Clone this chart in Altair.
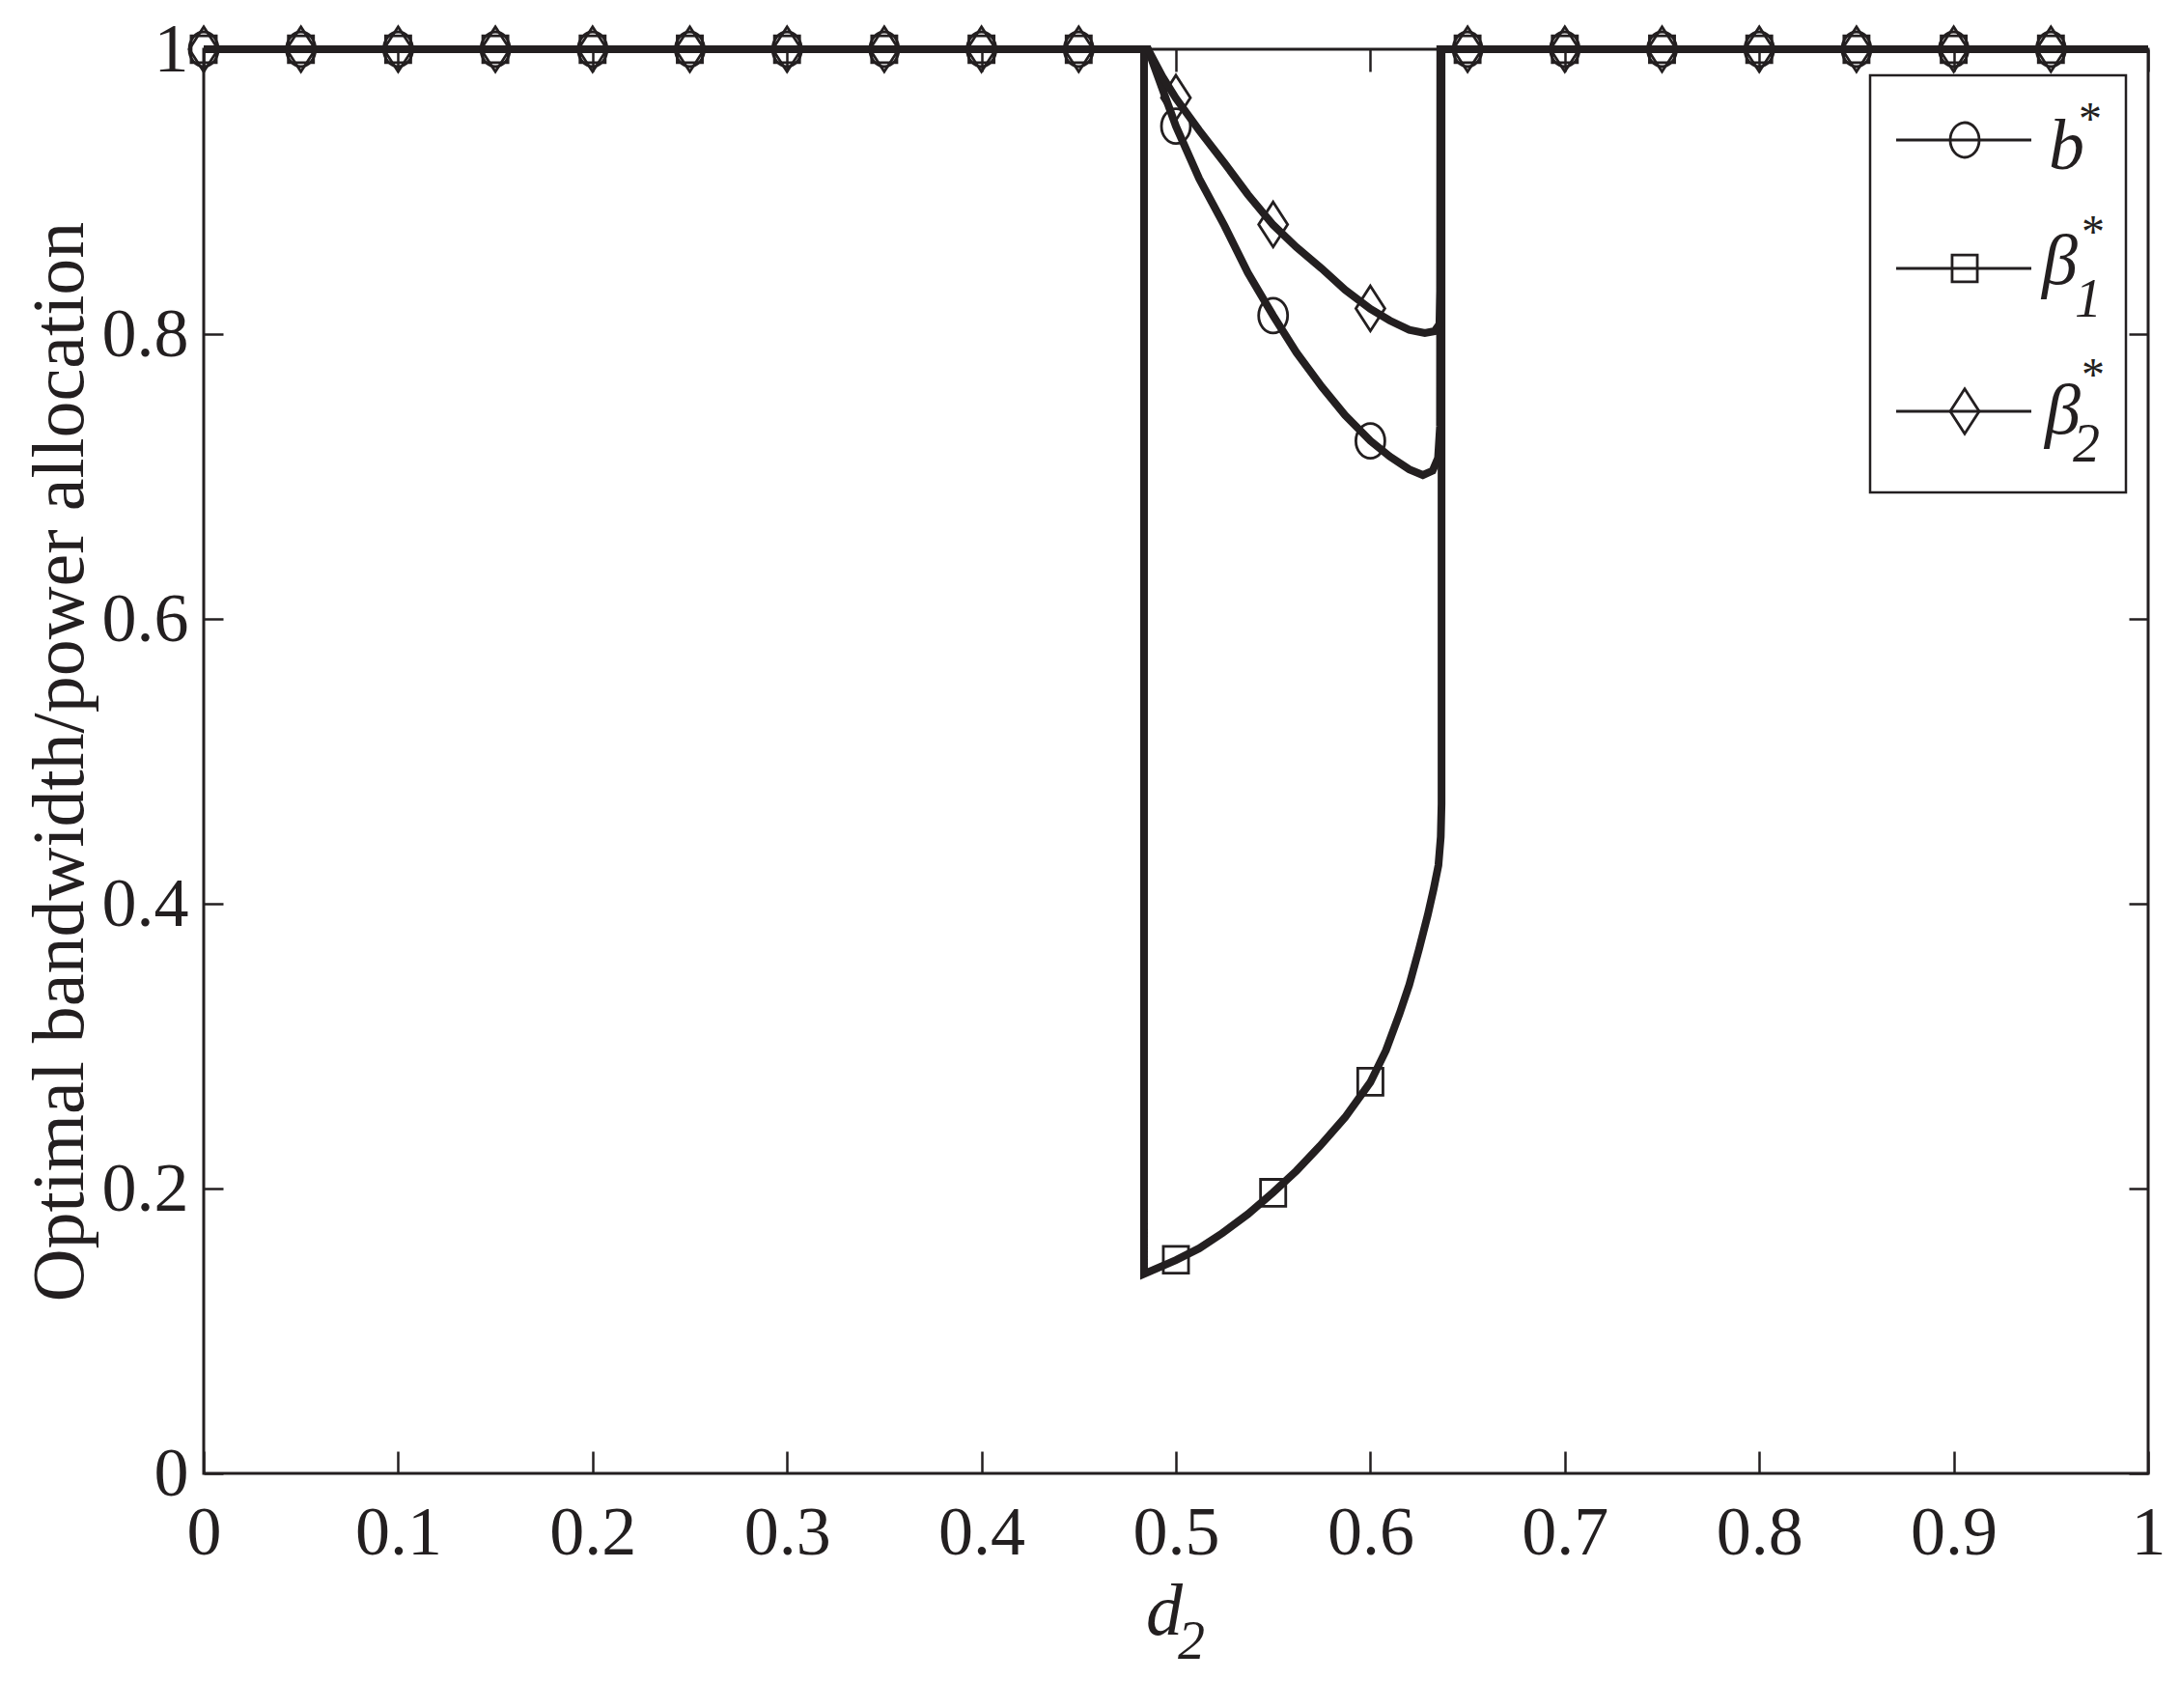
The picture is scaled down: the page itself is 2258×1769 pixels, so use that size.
import altair as alt
import pandas as pd

INK = "#231f20"
FONT = "Liberation Serif"

SERIES = ["b", "beta1", "beta2"]

# ---- curve data (x = d2, y = allocation) ----
B_X = [0, 0.4856, 0.5, 0.512, 0.525, 0.537, 0.55, 0.562, 0.575, 0.587, 0.6, 0.61, 0.62,
       0.627, 0.632, 0.6348, 0.6358, 0.636, 1]
B_Y = [1, 1, 0.946, 0.909, 0.876, 0.843, 0.813, 0.787, 0.763, 0.743, 0.725, 0.714, 0.705,
       0.701, 0.704, 0.713, 0.735, 1, 1]

BETA1_X = [0, 0.4836, 0.4836, 0.5, 0.512, 0.524, 0.537, 0.55, 0.562, 0.574, 0.587, 0.6,
           0.608, 0.615, 0.62, 0.625, 0.6295, 0.6325, 0.635, 0.6362, 0.6366, 0.6366, 1]
BETA1_Y = [1, 1, 0.14, 0.1498, 0.158, 0.1688, 0.182, 0.1973, 0.2125, 0.2298, 0.25, 0.2746,
           0.297, 0.3227, 0.343, 0.368, 0.392, 0.41, 0.427, 0.447, 0.47, 1, 1]

BETA2_X = [0, 0.4856, 0.493, 0.5, 0.512, 0.525, 0.537, 0.55, 0.562, 0.575, 0.587, 0.6, 0.61,
           0.62, 0.628, 0.633, 0.6355, 0.636, 0.636, 1]
BETA2_Y = [1, 1, 0.981, 0.9656, 0.943, 0.920, 0.898, 0.8766, 0.861, 0.846, 0.831, 0.8176,
           0.8095, 0.803, 0.8007, 0.802, 0.807, 0.83, 1, 1]

# ---- marker samples ----
MARK_X = [0, 0.05, 0.1, 0.15, 0.2, 0.25, 0.3, 0.35, 0.4, 0.45,
          0.5, 0.55, 0.6, 0.65, 0.7, 0.75, 0.8, 0.85, 0.9, 0.95]
MARK_B = [1, 1, 1, 1, 1, 1, 1, 1, 1, 1,
          0.946, 0.813, 0.725, 1, 1, 1, 1, 1, 1, 1]
MARK_BETA1 = [1, 1, 1, 1, 1, 1, 1, 1, 1, 1,
              0.150, 0.197, 0.275, 1, 1, 1, 1, 1, 1, 1]
MARK_BETA2 = [1, 1, 1, 1, 1, 1, 1, 1, 1, 1,
              0.966, 0.877, 0.818, 1, 1, 1, 1, 1, 1, 1]

X_TICKS = [0, 0.1, 0.2, 0.3, 0.4, 0.5, 0.6, 0.7, 0.8, 0.9, 1]
X_LABELS = ["0", "0.1", "0.2", "0.3", "0.4", "0.5", "0.6", "0.7", "0.8", "0.9", "1"]
Y_TICKS = [0, 0.2, 0.4, 0.6, 0.8, 1]
Y_LABELS = ["0", "0.2", "0.4", "0.6", "0.8", "1"]

Y_TITLE = "Optimal bandwidth/power allocation"
X_TITLE_MAIN = "d"
X_TITLE_SUB = "2"
LEG_BASE = ["b", "β", "β"]
LEG_SUB = ["", "1", "2"]
LEG_SUP = ["*", "*", "*"]

# ---- build tables ----
rows = []
for s, xs, ys in [("b", B_X, B_Y), ("beta1", BETA1_X, BETA1_Y), ("beta2", BETA2_X, BETA2_Y)]:
    for i, (xv, yv) in enumerate(zip(xs, ys)):
        rows.append({"series": s, "x": xv, "y": yv, "i": i})
lines_df = pd.DataFrame(rows)

mrows = []
for s, ys in [("b", MARK_B), ("beta1", MARK_BETA1), ("beta2", MARK_BETA2)]:
    for xv, yv in zip(MARK_X, ys):
        mrows.append({"series": s, "x": xv, "y": yv})
marks_df = pd.DataFrame(mrows)

ONE = pd.DataFrame({"k": [0]})

CIRCLE = "M-1,0A1,1.2,0,0,1,1,0A1,1.2,0,0,1,-1,0Z"
SQUARE = "M-0.87,-0.93L0.87,-0.93L0.87,0.93L-0.87,0.93Z"
DIAMOND = "M0,-1.55L1,0L0,1.55L-1,0Z"
SHAPES = [CIRCLE, SQUARE, DIAMOND]

W, H = 2014, 1475

xscale = alt.Scale(domain=[0, 1], nice=False, zero=False)
yscale = alt.Scale(domain=[0, 1], nice=False, zero=False)

x_expr = "[" + ",".join("'%s'" % l for l in X_LABELS) + "][round(datum.value*10)]"
y_expr = "[" + ",".join("'%s'" % l for l in Y_LABELS) + "][round(datum.value*5)]"

x_bottom = alt.Axis(orient="bottom", values=X_TICKS, labelExpr=x_expr, tickSize=23, offset=-23,
                    domain=False, grid=False, labelPadding=26, labelFlush=False,
                    labelOverlap=False, title=None)
y_left = alt.Axis(orient="left", values=Y_TICKS, labelExpr=y_expr, tickSize=20, offset=-20,
                  domain=False, grid=False, labelPadding=16, labelFlush=False,
                  labelOverlap=False, title=Y_TITLE, titleX=-130, titleAngle=270,
                  titleBaseline="bottom", titleFontSize=76)
x_top = alt.Axis(orient="top", values=X_TICKS, tickSize=23, offset=-23, domain=False,
                 grid=False, labels=False, title=None)
y_right = alt.Axis(orient="right", values=Y_TICKS, tickSize=20, offset=-20, domain=False,
                   grid=False, labels=False, title=None)

lines = alt.Chart(lines_df).mark_line(strokeWidth=8, color=INK, strokeJoin="miter").encode(
    x=alt.X("x:Q", scale=xscale, axis=x_bottom),
    y=alt.Y("y:Q", scale=yscale, axis=y_left),
    detail="series:N",
    order=alt.Order("i:Q"),
)

markers = alt.Chart(marks_df).mark_point(filled=False, strokeWidth=2.8, color=INK, size=900,
                                         opacity=1).encode(
    x=alt.X("x:Q", scale=xscale, axis=x_top),
    y=alt.Y("y:Q", scale=yscale, axis=y_right),
    shape=alt.Shape("series:N", scale=alt.Scale(domain=SERIES, range=SHAPES), legend=None),
)

layers = [lines, markers]

# ---- legend (drawn inside the plot, top right) ----
layers.append(alt.Chart(ONE).mark_rect(fill="white", stroke=INK, strokeWidth=2.5).encode(
    x=alt.value(1726), x2=alt.value(1991), y=alt.value(27), y2=alt.value(459)))

row_y = [94, 227, 375]
base_y = [124, 243, 398]
sub_y = [0, 277, 427]
sub_x = [0, 1938, 1936]
sup_y = [88, 205, 353]
sup_x = [1942, 1945, 1945]
base_x = [1911, 1904, 1907]

for k in range(3):
    layers.append(alt.Chart(ONE).mark_rule(strokeWidth=3, color=INK).encode(
        x=alt.value(1753), x2=alt.value(1893), y=alt.value(row_y[k])))
    layers.append(alt.Chart(ONE).mark_point(shape=SHAPES[k], size=900, filled=False,
                                            strokeWidth=2.8, color=INK, opacity=1).encode(
        x=alt.value(1824), y=alt.value(row_y[k])))
    layers.append(alt.Chart(ONE).mark_text(text=LEG_BASE[k], font=FONT, fontStyle="italic",
                                           fontSize=74, align="left", baseline="alphabetic",
                                           color=INK).encode(
        x=alt.value(base_x[k]), y=alt.value(base_y[k])))
    layers.append(alt.Chart(ONE).mark_text(text=LEG_SUP[k], font=FONT, fontSize=48,
                                           align="left", baseline="alphabetic",
                                           color=INK).encode(
        x=alt.value(sup_x[k]), y=alt.value(sup_y[k])))
    if LEG_SUB[k]:
        layers.append(alt.Chart(ONE).mark_text(text=LEG_SUB[k], font=FONT, fontStyle="italic",
                                               fontSize=56, align="left", baseline="alphabetic",
                                               color=INK).encode(
            x=alt.value(sub_x[k]), y=alt.value(sub_y[k])))

# ---- x axis title d_2 ----
layers.append(alt.Chart(ONE).mark_text(text=X_TITLE_MAIN, font=FONT, fontStyle="italic",
                                       fontSize=76, align="left", baseline="alphabetic",
                                       color=INK).encode(x=alt.value(976), y=alt.value(1642)))
layers.append(alt.Chart(ONE).mark_text(text=X_TITLE_SUB, font=FONT, fontStyle="italic",
                                       fontSize=56, align="left", baseline="alphabetic",
                                       color=INK).encode(x=alt.value(1009), y=alt.value(1667)))

chart = alt.layer(*layers).resolve_axis(x="independent", y="independent").properties(
    width=W, height=H,
    padding={"left": 203, "top": 43, "right": 21, "bottom": 225},
    autosize=alt.AutoSizeParams(type="none"),
    background="white",
).configure_view(stroke=INK, strokeWidth=3).configure_axis(
    tickColor=INK, tickWidth=2.5, labelFont=FONT, labelFontSize=72, labelColor=INK,
    titleFont=FONT, titleFontSize=76, titleFontWeight="normal", titleColor=INK,
)

chart.save("out.html", embed_options={"renderer": "svg", "actions": False})
